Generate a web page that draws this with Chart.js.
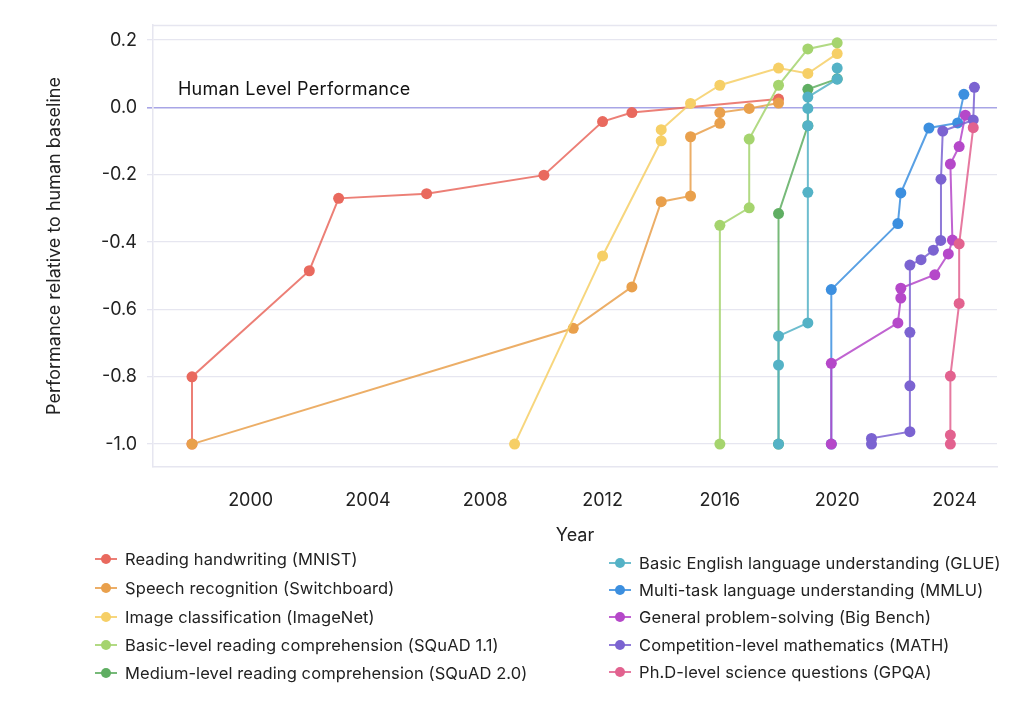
<!DOCTYPE html>
<html>
<head>
<meta charset="utf-8">
<script src="https://cdn.jsdelivr.net/npm/chart.js@4/dist/chart.umd.min.js"></script>
<style>
  html, body { margin: 0; padding: 0; background: #fff; }
  #wrap { position: relative; width: 1024px; height: 716px; font-family: Inter, "DejaVu Sans", sans-serif; color: #222; }
  #wrap canvas { position: absolute; left: 0; top: 0; }
  .leg { position: absolute; font-size: 16.5px; line-height: 20px; white-space: nowrap; letter-spacing: 0.1px; }
  .leg .mk { position: absolute; top: 9px; width: 22px; height: 2px; }
  .leg .dot { position: absolute; top: -4px; left: 6px; width: 10px; height: 10px; border-radius: 50%; }
</style>
</head>
<body>
<div id="wrap">
  <canvas id="c" width="1024" height="716"></canvas>
  <div id="legend"></div>
</div>
<script>
const labels = [
  'Reading handwriting (MNIST)',
  'Speech recognition (Switchboard)',
  'Image classification (ImageNet)',
  'Basic-level reading comprehension (SQuAD 1.1)',
  'Medium-level reading comprehension (SQuAD 2.0)',
  'Basic English language understanding (GLUE)',
  'Multi-task language understanding (MMLU)',
  'General problem-solving (Big Bench)',
  'Competition-level mathematics (MATH)',
  'Ph.D-level science questions (GPQA)',
];
const colors = ['#e9695e', '#e9a04c', '#f6cf66', '#a5d46e', '#5fae62',
                '#54b2c6', '#3c8fdf', '#b548c9', '#7b63d1', '#e2628f'];

// years and scores relative to human baseline, per benchmark
const mnistYears = [1998, 1998, 2002, 2003, 2006, 2010, 2012, 2013, 2018];
const mnistVals  = [-1.0, -0.80, -0.485, -0.27, -0.256, -0.201, -0.042, -0.015, 0.025];
const switchYears = [1998, 2011, 2013, 2014, 2015, 2015, 2016, 2016, 2017, 2018];
const switchVals  = [-1.0, -0.656, -0.533, -0.28, -0.263, -0.087, -0.047, -0.015, -0.003, 0.013];
const imagenetYears = [2009, 2012, 2014, 2014, 2015, 2016, 2018, 2019, 2020];
const imagenetVals  = [-1.0, -0.441, -0.099, -0.066, 0.012, 0.066, 0.117, 0.101, 0.160];
const squad1Years = [2016, 2016, 2017, 2017, 2018, 2019, 2020];
const squad1Vals  = [-1.0, -0.35, -0.298, -0.094, 0.066, 0.174, 0.192];
const squad2Years = [2018, 2018, 2019, 2019, 2020];
const squad2Vals  = [-1.0, -0.315, -0.054, 0.054, 0.085];
const glueYears = [2018, 2018, 2018, 2019, 2019, 2019, 2019, 2019, 2020, 2020];
const glueVals  = [-1.0, -0.765, -0.679, -0.64, -0.252, -0.054, -0.003, 0.031, 0.084, 0.117];
const mmluYears = [2019.8, 2019.8, 2022.07, 2022.17, 2023.13, 2024.11, 2024.32];
const mmluVals  = [-1.0, -0.541, -0.345, -0.254, -0.061, -0.046, 0.039];
const bigbenchYears = [2019.8, 2019.8, 2022.07, 2022.17, 2022.17, 2023.33, 2023.79, 2023.93, 2023.86, 2024.16, 2024.37];
const bigbenchVals  = [-1.0, -0.76, -0.64, -0.566, -0.537, -0.497, -0.435, -0.394, -0.168, -0.116, -0.023];
const mathYears = [2021.17, 2021.17, 2022.48, 2022.48, 2022.48, 2022.48, 2022.86, 2023.28, 2023.53, 2023.54, 2023.6, 2024.64, 2024.68];
const mathVals  = [-1.0, -0.983, -0.963, -0.827, -0.668, -0.468, -0.452, -0.424, -0.395, -0.213, -0.070, -0.037, 0.060];
const gpqaYears = [2023.86, 2023.86, 2023.86, 2024.16, 2024.16, 2024.64];
const gpqaVals  = [-1.0, -0.973, -0.798, -0.582, -0.405, -0.060];

const xTicks = [2000, 2004, 2008, 2012, 2016, 2020, 2024];
const yTicks = [-1.0, -0.8, -0.6, -0.4, -0.2, 0.0, 0.2];
const humanLabel = 'Human Level Performance';

const years = [mnistYears, switchYears, imagenetYears, squad1Years, squad2Years,
               glueYears, mmluYears, bigbenchYears, mathYears, gpqaYears];
const vals = [mnistVals, switchVals, imagenetVals, squad1Vals, squad2Vals,
              glueVals, mmluVals, bigbenchVals, mathVals, gpqaVals];

function alpha(hex, a) {
  const n = parseInt(hex.slice(1), 16);
  return `rgba(${n >> 16},${(n >> 8) & 255},${n & 255},${a})`;
}

const FONT = 'Inter, "DejaVu Sans", sans-serif';
const INK = '#222';
const GRID = '#e6e6f0';
const HUMAN = '#a8a5e6';

const datasets = labels.map((label, i) => ({
  label,
  data: years[i].map((x, k) => ({ x, y: vals[i][k] })),
  borderColor: alpha(colors[i], 0.85),
  backgroundColor: colors[i],
  pointBackgroundColor: colors[i],
  pointBorderWidth: 0,
  pointRadius: 5.5,
  pointHoverRadius: 5.5,
  borderWidth: 2,
  tension: 0,
  order: labels.length - i, // later benchmarks drawn on top
}));

const frameAndText = {
  id: 'frameAndText',
  beforeDatasetsDraw(chart) {
    const { ctx, chartArea: a, scales } = chart;
    ctx.save();
    ctx.strokeStyle = GRID;
    ctx.lineWidth = 1.5;
    ctx.beginPath();
    ctx.moveTo(a.left, a.top + 0.5);
    ctx.lineTo(a.right, a.top + 0.5);
    ctx.stroke();
    ctx.fillStyle = '#111';
    ctx.font = '18px ' + FONT;
    ctx.letterSpacing = '0.3px';
    ctx.textBaseline = 'middle';
    ctx.fillText(humanLabel, scales.x.getPixelForValue(1997.52), scales.y.getPixelForValue(0.052));
    ctx.restore();
  },
};

new Chart(document.getElementById('c').getContext('2d'), {
  type: 'line',
  data: { datasets },
  plugins: [frameAndText],
  options: {
    responsive: false,
    animation: false,
    events: [],
    layout: { padding: { top: 25, right: 27, left: 0, bottom: 166 } },
    plugins: { legend: { display: false }, tooltip: { enabled: false } },
    scales: {
      x: {
        type: 'linear',
        min: 1996.67,
        max: 2025.45,
        afterFit: s => { s.height = 83; },
        afterBuildTicks: s => { s.ticks = xTicks.map(v => ({ value: v })); },
        grid: { display: false },
        border: { display: true, color: GRID, width: 1.5 },
        ticks: { padding: 15, color: INK, font: { size: 18, family: FONT }, callback: v => String(v) },
        title: { display: true, text: 'Year', color: INK, font: { size: 18, family: FONT }, padding: { top: 0, bottom: 4 } },
      },
      y: {
        min: -1.068,
        max: 0.245,
        afterFit: s => { s.width = 153; },
        afterBuildTicks: s => { s.ticks = yTicks.map(v => ({ value: v })); },
        grid: {
          color: c => (c.tick && c.tick.value === 0 ? HUMAN : GRID),
          lineWidth: c => (c.tick && c.tick.value === 0 ? 1.6 : 1.3),
          tickLength: 6,
        },
        border: { display: true, color: GRID, width: 1.5 },
        ticks: { padding: 10, color: INK, font: { size: 18, family: FONT }, callback: v => v.toFixed(1) },
        title: { display: true, text: 'Performance relative to human baseline', color: INK, font: { size: 18, family: FONT }, padding: { top: 44, bottom: 0 } },
      },
    },
  },
});

// two-column legend under the plot
const legendRows = [
  [559, 588, 617, 645, 673],
  [563, 590, 617, 645, 672],
];
const legendCols = [{ mark: 95, text: 125 }, { mark: 609, text: 639 }];
const legendEl = document.getElementById('legend');
labels.forEach((label, i) => {
  const col = i < 5 ? 0 : 1;
  const row = i % 5;
  const item = document.createElement('div');
  item.className = 'leg';
  item.style.left = legendCols[col].mark + 'px';
  item.style.top = (legendRows[col][row] - 10) + 'px';
  item.innerHTML = `<span class="mk" style="background:${alpha(colors[i], 0.85)}"><span class="dot" style="background:${colors[i]}"></span></span>` +
    `<span style="position:absolute;left:${legendCols[col].text - legendCols[col].mark}px;top:0">${label}</span>`;
  legendEl.appendChild(item);
});
</script>
</body>
</html>
